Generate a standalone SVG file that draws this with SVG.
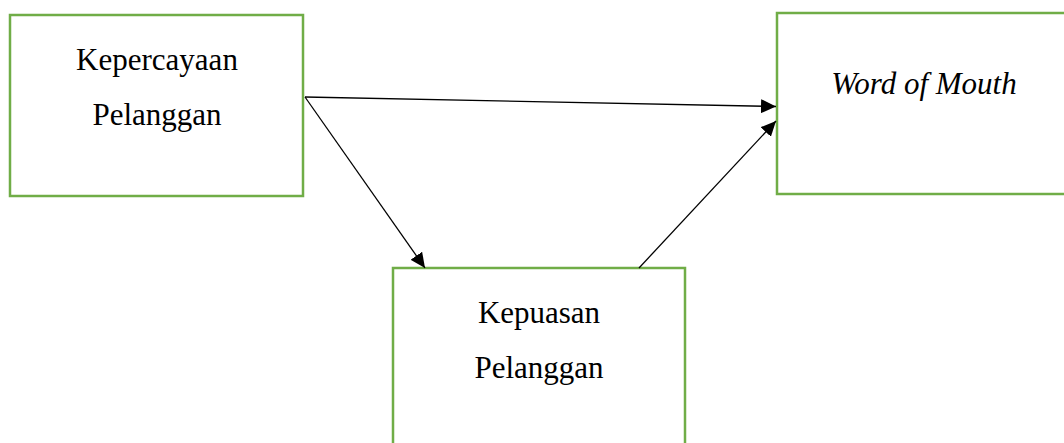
<svg xmlns="http://www.w3.org/2000/svg" width="1064" height="443" viewBox="0 0 1064 443">
  <style>
    .box { fill: #ffffff; stroke: #70ad47; stroke-width: 2.5; }
    .lbl { font-family: "Liberation Serif", "Times New Roman", serif; font-size: 31px; fill: #000000; text-anchor: middle; }
    .it { font-style: italic; }
    .edge { stroke: #000000; stroke-width: 1.3; fill: none; marker-end: url(#arrow); }
  </style>
  <defs>
    <marker id="arrow" viewBox="0 0 15 14" refX="15" refY="7" markerWidth="15" markerHeight="14" markerUnits="userSpaceOnUse" orient="auto">
      <path d="M0,0 L15,7 L0,14 z" fill="#000000"/>
    </marker>
  </defs>
  <rect width="1064" height="443" fill="#ffffff"/>

  <g id="kepercayaan">
    <rect class="box" x="10" y="15" width="293" height="181"/>
    <text class="lbl" x="157" y="70">Kepercayaan</text>
    <text class="lbl" x="157" y="125">Pelanggan</text>
  </g>

  <g id="wom">
    <rect class="box" x="777" y="13" width="292" height="181"/>
    <text class="lbl it" x="924" y="94">Word of Mouth</text>
  </g>

  <g id="kepuasan">
    <rect class="box" x="393" y="268" width="292" height="190"/>
    <text class="lbl" x="539" y="323">Kepuasan</text>
    <text class="lbl" x="539" y="378">Pelanggan</text>
  </g>

  <g id="connectors">
    <line class="edge" x1="305" y1="97" x2="776" y2="106.5"/>
    <line class="edge" x1="305" y1="97" x2="425" y2="268"/>
    <line class="edge" x1="639" y1="268" x2="776" y2="121"/>
  </g>
</svg>
